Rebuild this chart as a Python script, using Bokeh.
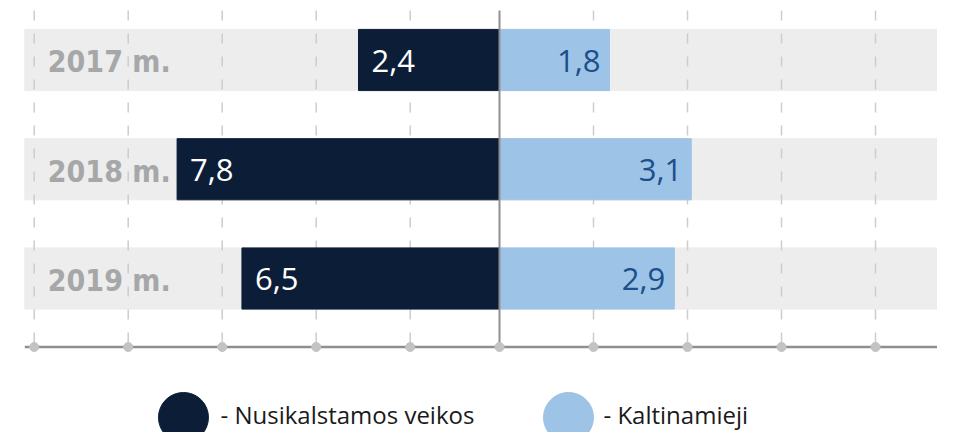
from bokeh.plotting import figure
from bokeh.models import Range1d, ColumnDataSource
from bokeh.core.properties import value
from bokeh.embed import file_html
from bokeh.resources import INLINE

# ---- data ----
years = ["2017 m.", "2018 m.", "2019 m."]
crimes = [2.4, 7.8, 6.5]          # Nusikalstamos veikos (printed values)
accused = [1.8, 3.1, 2.9]         # Kaltinamieji (printed values)
# bar lengths as drawn in the picture (grid units)
crimes_len = [1.50, 3.43, 2.74]
accused_len = [1.17, 2.04, 1.86]
grid_ticks = [-4.95, -3.95, -2.95, -1.95, -0.95, 1, 2, 3, 4]
legend_labels = ["- Nusikalstamos veikos", "- Kaltinamieji"]

DARK = "#0c1e37"
LIGHT = "#9dc3e6"

def fmt(v):
    return f"{v:.1f}".replace(".", ",")

rows = list(range(len(years)))

x_start, x_end = -5.3085, 4.6596
y_top, y_bottom = -0.5446, 3.4096
band_left = -5.05
grid_top = -0.453
axis_y = 2.627
bar_h = 0.56

p = figure(width=937, height=432, x_range=Range1d(x_start, x_end),
           y_range=Range1d(y_bottom, y_top), output_backend="svg",
           toolbar_location=None, min_border=0, x_axis_type=None,
           y_axis_type=None, outline_line_color=None)
p.grid.visible = False
p.background_fill_color = "white"

src = ColumnDataSource(dict(
    y=rows, years=years,
    cl=[-v for v in crimes_len], ar=accused_len,
    ctext=[fmt(v) for v in crimes], atext=[fmt(v) for v in accused],
))

# background bands
p.hbar(y="y", left=band_left, right=x_end, height=bar_h, color="#ecedec", source=src)
# dashed gridlines
p.segment(x0=grid_ticks, y0=grid_top, x1=grid_ticks, y1=axis_y,
          line_color="#cdcdcd", line_width=1.5, line_dash="10 13")
# bars
p.hbar(y="y", left="cl", right=0, height=bar_h, color=DARK, source=src)
p.hbar(y="y", left=0, right="ar", height=bar_h, color=LIGHT, source=src)
# center line
p.segment(x0=[0], y0=[grid_top], x1=[0], y1=[axis_y], line_color="#8f8f8f", line_width=2)
# bottom axis line with dots
p.segment(x0=[band_left], y0=[axis_y], x1=[x_end], y1=[axis_y], line_color="#8f8f8f", line_width=2.5)
p.scatter(x=grid_ticks + [0], y=[axis_y] * (len(grid_ticks) + 1), size=9,
          color="#c3c3c3")

# year labels
p.text(x=band_left, y="y", text="years", x_offset=23, y_offset=2, source=src,
       text_font=value("DejaVu Sans Condensed"), text_font_style="bold",
       text_font_size="30px", text_color="#a6a7a9", text_baseline="middle")
# value labels
p.text(x="cl", y="y", text="ctext", x_offset=13, y_offset=1, source=src,
       text_font=value("Open Sans"), text_font_size="31px", text_color="white",
       text_baseline="middle", text_align="left")
p.text(x="ar", y="y", text="atext", x_offset=-9, y_offset=1, source=src,
       text_font=value("Open Sans"), text_font_size="31px", text_color="#1b4f8b",
       text_baseline="middle", text_align="right")

# legend
leg_y_c = 3.272
leg_y_t = 3.245
p.scatter(x=[-3.362, 0.734], y=[leg_y_c, leg_y_c], size=50, color=[DARK, LIGHT])
p.text(x=[-2.968, 1.106], y=[leg_y_t, leg_y_t], text=legend_labels,
       text_font=value("Open Sans"), text_font_size="24px", text_color="#1a1a1a",
       text_baseline="middle", text_align="left")

open("out.html", "w").write(file_html(p, INLINE))
